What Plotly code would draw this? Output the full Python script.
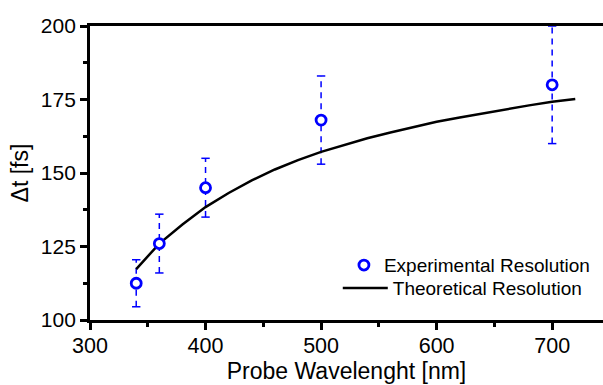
import plotly.graph_objects as go

# Experimental resolution
wl_exp = [340, 360, 400, 500, 700]
dt_exp = [112.5, 126, 145, 168, 180]
err_exp = [8, 10, 10, 15, 20]

# Theoretical resolution
wl_theo = [340, 360, 380, 400, 420, 440, 460, 480, 500, 520, 540, 560, 580, 600,
           620, 640, 660, 680, 700, 720]
dt_theo = [117.3, 126.0, 132.5, 138.4, 143.2, 147.5, 151.2, 154.4, 157.2, 159.6,
           161.8, 163.8, 165.7, 167.4, 168.9, 170.3, 171.7, 173.0, 174.2, 175.2]

x_ticks = [300, 400, 500, 600, 700]
y_ticks = [100, 125, 150, 175, 200]

BLUE = "#0000FF"
FONT = "Arial, Liberation Sans, sans-serif"

# dashed error bar segments built from the data
seg_x, seg_y, cap_x, cap_y = [], [], [], []
for x, y, e in zip(wl_exp, dt_exp, err_exp):
    seg_x += [x, x, None]
    seg_y += [y - e, y + e, None]
    cap_x += [x, x]
    cap_y += [y - e, y + e]

fig = go.Figure()
fig.add_trace(go.Scatter(x=seg_x, y=seg_y, mode="lines", showlegend=False,
                         line=dict(color=BLUE, width=1.5, dash="6px,5px"),
                         hoverinfo="skip"))
fig.add_trace(go.Scatter(x=cap_x, y=cap_y, mode="markers", showlegend=False,
                         marker=dict(symbol="line-ew", size=6,
                                     line=dict(color=BLUE, width=1.5)),
                         hoverinfo="skip"))
fig.add_trace(go.Scatter(x=wl_theo, y=dt_theo, mode="lines",
                         name="Theoretical Resolution", legend="legend2",
                         line=dict(color="black", width=2.5)))
fig.add_trace(go.Scatter(x=wl_exp, y=dt_exp, mode="markers",
                         name="Experimental Resolution", legend="legend",
                         marker=dict(symbol="circle", size=10, color="white",
                                     line=dict(color=BLUE, width=2.8))))

legend_font = dict(size=19, family=FONT, color="black")
fig.update_layout(
    width=603, height=385,
    margin=dict(l=90, r=0, t=26, b=65),
    paper_bgcolor="white", plot_bgcolor="white",
    font=dict(family=FONT, color="black"),
    showlegend=True,
    legend=dict(x=0.495, y=0.251, xanchor="left", yanchor="top",
                bgcolor="rgba(0,0,0,0)", font=legend_font),
    legend2=dict(x=0.483, y=0.173, xanchor="left", yanchor="top", itemwidth=45,
                 bgcolor="rgba(0,0,0,0)", font=legend_font),
)
fig.update_xaxes(
    range=[300, 744], showgrid=False, zeroline=False,
    showline=True, linecolor="black", linewidth=2.8, mirror=True,
    tickmode="array", tickvals=x_ticks, ticktext=[str(v) for v in x_ticks],
    ticks="outside", ticklen=7, tickwidth=2.5, tickcolor="black",
    ticklabelstandoff=-3,
    tickfont=dict(size=21.5, family=FONT, color="black"),
    minor=dict(dtick=50, tick0=300, ticks="outside", ticklen=4, tickwidth=2.5,
               tickcolor="black", showgrid=False),
    title=dict(text="Probe Wavelenght [nm]", standoff=6,
               font=dict(size=23, family=FONT, color="black")),
    automargin=False,
)
fig.update_yaxes(
    range=[100, 200], showgrid=False, zeroline=False,
    showline=True, linecolor="black", linewidth=2.8, mirror=False,
    tickmode="array", tickvals=y_ticks, ticktext=[str(v) for v in y_ticks],
    ticks="outside", ticklen=7, tickwidth=2.5, tickcolor="black",
    tickfont=dict(size=21, family=FONT, color="black"),
    minor=dict(dtick=12.5, tick0=100, ticks="outside", ticklen=4, tickwidth=2.5,
               tickcolor="black", showgrid=False),
    title=dict(text="Δt [fs]", standoff=6,
               font=dict(size=23, family=FONT, color="black")),
    automargin=False,
)

fig.write_html("out.html")
